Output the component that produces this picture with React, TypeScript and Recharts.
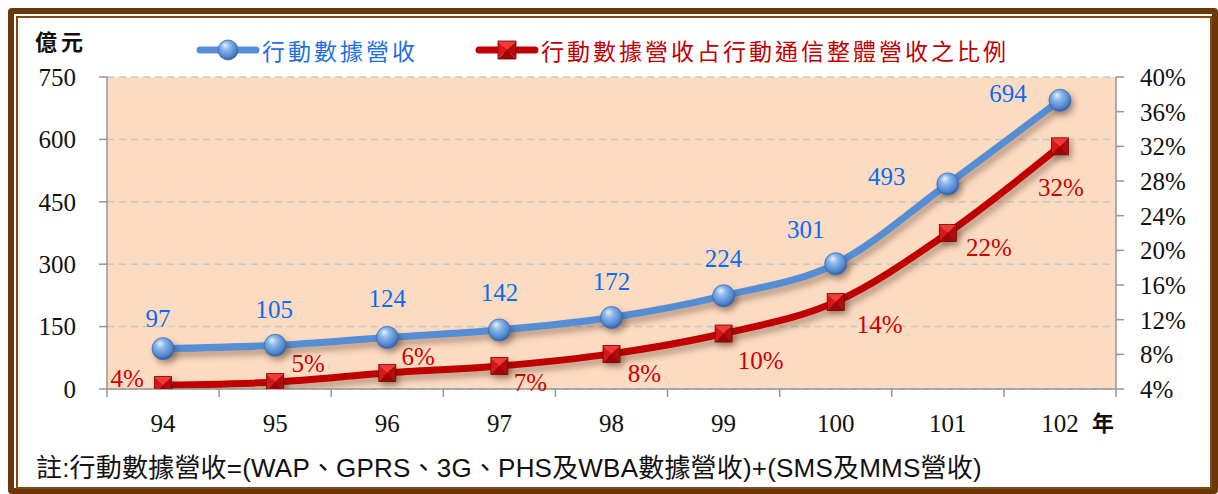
import { ComposedChart, Line, XAxis, YAxis, CartesianGrid, LabelList } from 'recharts';

const years = ['94', '95', '96', '97', '98', '99', '100', '101', '102'];
const dataRevenue = [97, 105, 124, 142, 172, 224, 301, 493, 694];
const dataShare = [4.45, 4.8, 5.85, 6.65, 8.05, 10.4, 14.05, 22.0, 32.0];
const leftTicks = [0, 150, 300, 450, 600, 750];
const rightTicks = [4, 8, 12, 16, 20, 24, 28, 32, 36, 40];

// where each data label sits relative to its point (dx, dy)
const revenueLabelPos = [[-5, -30], [-1, -36], [0, -39], [0, -37], [0, -36], [0, -37], [-30, -34], [-61, -7], [-52, -7]];
const shareLabelPos = [[-36, -7], [33, -19], [31, -16], [31, 16], [33, 20], [37, 27], [44, 23], [41, 14], [1, 41]];

const rows = years.map((y, i) => ({ year: y, revenue: dataRevenue[i], share: dataShare[i] }));

const BLUE = '#558ED5';
const RED = '#C00000';
const AXIS = '#969696';
const NUM_FONT = '"Liberation Serif", "Times New Roman", serif';
const CJK_FONT = '"Noto Sans CJK TC", "Noto Sans CJK SC", sans-serif';

function Sphere({ cx, cy, r = 11 }: any) {
  if (cx == null || cy == null) return null;
  return (
    <g>
      <circle cx={cx} cy={cy} r={r} fill="url(#sphereGrad)" stroke="#3A6FB5" strokeWidth={0.8} />
    </g>
  );
}

function Pyramid({ cx, cy, s = 17 }: any) {
  if (cx == null || cy == null) return null;
  const h = s / 2;
  const x0 = cx - h, x1 = cx + h, y0 = cy - h, y1 = cy + h;
  return (
    <g>
      <polygon points={`${x0},${y0} ${x1},${y0} ${cx},${cy}`} fill="#F23A3A" />
      <polygon points={`${x0},${y0} ${x0},${y1} ${cx},${cy}`} fill="#D81818" />
      <polygon points={`${x1},${y0} ${x1},${y1} ${cx},${cy}`} fill="#B30C0C" />
      <polygon points={`${x0},${y1} ${x1},${y1} ${cx},${cy}`} fill="#9E0606" />
      <rect x={x0} y={y0} width={s} height={s} fill="none" stroke="#7A0000" strokeWidth={0.8} />
    </g>
  );
}

function XTick(props: any) {
  const { x, y, payload, index, visibleTicksCount, width } = props;
  const n = visibleTicksCount || years.length;
  const half = (typeof width === 'number' && width > 100 ? width : 1009) / n / 2;
  const axisY = y - 8;
  return (
    <g>
      <line x1={x - half} x2={x - half} y1={axisY} y2={axisY + 8} stroke={AXIS} strokeWidth={1.5} />
      {index === n - 1 && (
        <line x1={x + half} x2={x + half} y1={axisY} y2={axisY + 8} stroke={AXIS} strokeWidth={1.5} />
      )}
      <text x={x} y={axisY + 34} textAnchor="middle" dominantBaseline="central" fontSize={25} fontFamily={NUM_FONT} fill="#111">
        {payload.value}
      </text>
    </g>
  );
}

function makeLabel(pos: number[][], color: string, fmt: (v: number) => string) {
  return (p: any) => {
    const { x, y, value, index } = p;
    const [dx, dy] = pos[index] || [0, -30];
    return (
      <text x={x + dx} y={y + dy} textAnchor="middle" dominantBaseline="central" fontSize={25} fontFamily={NUM_FONT} fill={color}>
        {fmt(value)}
      </text>
    );
  };
}

function LegendItem({ kind, color, text }: { kind: 'sphere' | 'square'; color: string; text: string }) {
  return (
    <div style={{ display: 'flex', alignItems: 'center' }}>
      <svg width={62} height={26} style={{ overflow: 'visible' }}>
        <line x1={3} x2={59} y1={13} y2={13} stroke={color} strokeWidth={7} strokeLinecap="round" />
        {kind === 'sphere' ? <Sphere cx={31} cy={13} r={10} /> : <Pyramid cx={31} cy={13} s={18} />}
      </svg>
      <span style={{ color: kind === 'sphere' ? '#1E6FE0' : '#C00000', fontSize: 23, letterSpacing: 3, fontFamily: CJK_FONT, marginLeft: 3 }}>
        {text}
      </span>
    </div>
  );
}

export default function App() {
  return (
    <div style={{ position: 'relative', width: 1218, height: 494, background: '#fff', overflow: 'hidden' }}>
      <style>{`
        body { margin: 0; overflow: hidden; }
        .recharts-line-curve { filter: drop-shadow(3px 5px 3px rgba(60,30,10,0.35)); }
        .recharts-line-dots { filter: drop-shadow(3px 4px 3px rgba(60,30,10,0.4)); }
      `}</style>

      {/* frame */}
      <div style={{ position: 'absolute', left: 8, top: 8, width: 1210, height: 486, boxSizing: 'border-box', border: '6px solid #6B3608', borderRadius: 4 }} />
      <div style={{ position: 'absolute', left: 16, top: 16, width: 1196, height: 473, boxSizing: 'border-box', border: '2px solid #7E4A1C' }} />

      <div style={{ position: 'absolute', left: 0, top: 0 }}>
        <ComposedChart width={1218} height={494} data={rows} margin={{ top: 77, right: 22, bottom: 65, left: 37 }}>
          <defs>
            <radialGradient id="sphereGrad" cx="45%" cy="40%" r="60%" fx="35%" fy="25%">
              <stop offset="0%" stopColor="#E4F0FC" />
              <stop offset="35%" stopColor="#8CB8EA" />
              <stop offset="80%" stopColor="#4F86CF" />
              <stop offset="100%" stopColor="#2F5E9E" />
            </radialGradient>
          </defs>
          <CartesianGrid yAxisId="left" vertical={false} fill="#FBDBC2" stroke="#C8C8C8" strokeWidth={1.5} strokeDasharray="7 5" fillOpacity={1} />
          <XAxis
            dataKey="year"
            scale="band"
            height={40}
            tickSize={8}
            tickMargin={0}
            tickLine={false}
            axisLine={{ stroke: AXIS, strokeWidth: 1.5 }}
            tick={<XTick />}
            interval={0}
          />
          <YAxis
            yAxisId="left"
            width={70}
            domain={[0, 750]}
            ticks={leftTicks}
            tickSize={8}
            tickMargin={23}
            axisLine={{ stroke: AXIS, strokeWidth: 1.5 }}
            tickLine={{ stroke: AXIS, strokeWidth: 1.5 }}
            tick={{ fontSize: 25, fill: '#111', fontFamily: NUM_FONT }}
            allowDataOverflow
          />
          <YAxis
            yAxisId="right"
            orientation="right"
            width={80}
            domain={[4, 40]}
            ticks={rightTicks}
            tickSize={8}
            tickMargin={16}
            tickFormatter={(v: number) => `${v}%`}
            axisLine={{ stroke: AXIS, strokeWidth: 1.5 }}
            tickLine={{ stroke: AXIS, strokeWidth: 1.5 }}
            tick={{ fontSize: 25, fill: '#111', fontFamily: NUM_FONT }}
            allowDataOverflow
          />
          <Line
            yAxisId="left"
            type="monotone"
            dataKey="revenue"
            name="行動數據營收"
            stroke={BLUE}
            strokeWidth={7}
            dot={(p: any) => <Sphere key={`s${p.index}`} cx={p.cx} cy={p.cy} />}
            activeDot={false}
            isAnimationActive={false}
          >
            <LabelList dataKey="revenue" content={makeLabel(revenueLabelPos, '#0A6CF0', (v) => String(v))} />
          </Line>
          <Line
            yAxisId="right"
            type="monotone"
            dataKey="share"
            name="行動數據營收占行動通信整體營收之比例"
            stroke={RED}
            strokeWidth={7}
            dot={(p: any) => <Pyramid key={`q${p.index}`} cx={p.cx} cy={p.cy} />}
            activeDot={false}
            isAnimationActive={false}
          >
            <LabelList dataKey="share" content={makeLabel(shareLabelPos, '#CC0000', (v) => `${Math.round(v)}%`)} />
          </Line>
        </ComposedChart>
      </div>

      {/* legend */}
      <div style={{ position: 'absolute', left: 197, top: 33, display: 'flex', gap: 0 }}>
        <LegendItem kind="sphere" color={BLUE} text="行動數據營收" />
        <div style={{ width: 58 }} />
        <LegendItem kind="square" color={RED} text="行動數據營收占行動通信整體營收之比例" />
      </div>

      <div style={{ position: 'absolute', left: 35, top: 24, fontSize: 22, fontWeight: 'bold', letterSpacing: 4, fontFamily: CJK_FONT, color: '#111' }}>億元</div>
      <div style={{ position: 'absolute', left: 1092, top: 405, fontSize: 22, fontWeight: 'bold', fontFamily: CJK_FONT, color: '#111' }}>年</div>

      <div style={{ position: 'absolute', left: 36, top: 447, fontSize: 26, letterSpacing: 0.2, fontFamily: '"Liberation Sans", Arial, "Noto Sans CJK TC", sans-serif', color: '#111', whiteSpace: 'nowrap' }}>
        註:行動數據營收=(WAP、GPRS、3G、PHS及WBA數據營收)+(SMS及MMS營收)
      </div>
    </div>
  );
}
